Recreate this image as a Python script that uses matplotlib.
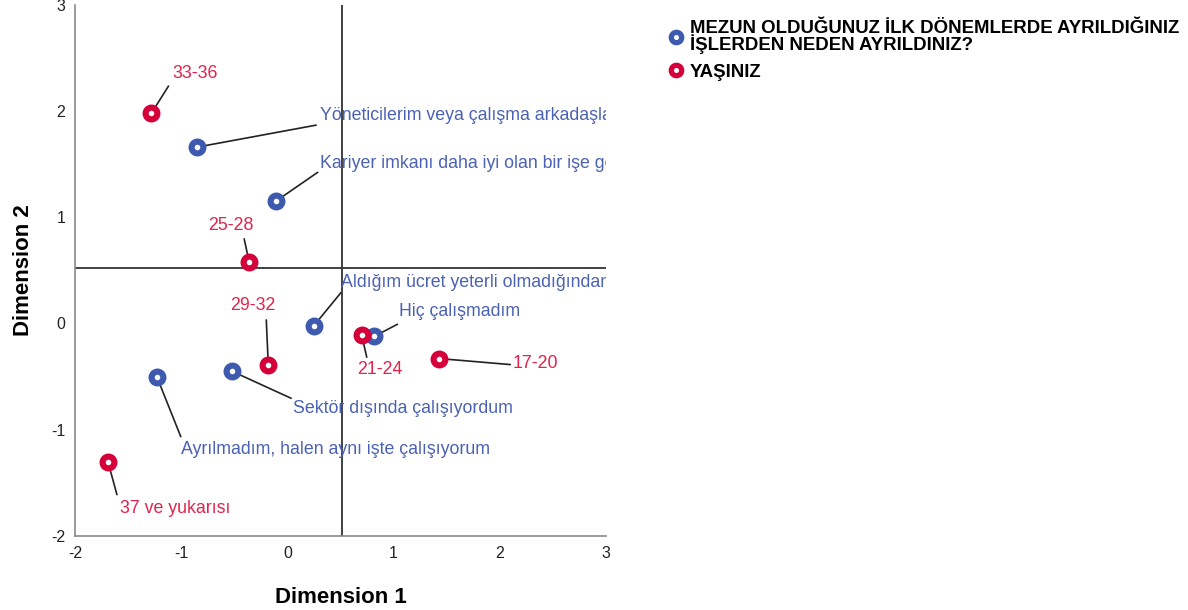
import matplotlib
matplotlib.use("Agg")
import matplotlib.pyplot as plt
from matplotlib.lines import Line2D

plt.rcParams['font.family'] = ['Liberation Sans', 'DejaVu Sans']
plt.rcParams['axes.unicode_minus'] = False

# Category points (Dimension 1, Dimension 2)
reason_labels = [
    "Yöneticilerim veya çalışma arkadaşlarımla sorun yaşadığımdan",
    "Kariyer imkanı daha iyi olan bir işe geçtiğimden",
    "Aldığım ücret yeterli olmadığından",
    "Hiç çalışmadım",
    "Sektör dışında çalışıyordum",
    "Ayrılmadım, halen aynı işte çalışıyorum",
]
reason_dim1 = [-0.85, -0.11, 0.25, 0.82, -0.52, -1.23]
reason_dim2 = [1.66, 1.15, -0.02, -0.12, -0.45, -0.50]

age_labels = ["33-36", "25-28", "29-32", "21-24", "17-20", "37 ve yukarısı"]
age_dim1 = [-1.28, -0.36, -0.18, 0.70, 1.43, -1.69]
age_dim2 = [1.98, 0.58, -0.39, -0.11, -0.33, -1.30]

legend_labels = ["MEZUN OLDUĞUNUZ İLK DÖNEMLERDE AYRILDIĞINIZ\nİŞLERDEN NEDEN AYRILDINIZ?", "YAŞINIZ"]
x_ticks = [-2, -1, 0, 1, 2, 3]
y_ticks = [-2, -1, 0, 1, 2, 3]
ref_x = 0.51
ref_y = 0.52

# label placement in pixels relative to the point: text offset, leader end, alignment (style only)
reason_place = [((123, 32), (119, 22), 'left'), ((44, 38), (42, 29), 'left'),
                ((27, 43), (27, 33), 'left'), ((25, 25), (23, 12), 'left'),
                ((61, -37), (59, -27), 'left'), ((24, -73), (24, -60), 'left')]
age_place = [((44, 40), (17, 27), 'center'), ((-18, 36), (-5, 23), 'center'),
             ((-15, 59), (-2, 45), 'center'), ((18, -34), (5, -22), 'center'),
             ((73, -5), (71, -6), 'left'), ((12, -47), (9, -33), 'left')]

BLUE = '#3D5AAF'
RED = '#D5003A'
BLUE_T = '#4B62B3'
RED_T = '#E2234C'

fig = plt.figure(figsize=(11.88, 6.10), dpi=100)
ax = fig.add_axes([75/1188, (610-536)/610, (606-75)/1188, (536-4.75)/610])

ax.set_xlim(-2, 3)
ax.set_ylim(-2, 3)
ax.set_xticks(x_ticks)
ax.set_yticks(y_ticks)
ax.tick_params(length=0, labelsize=11.5, pad=7, colors='#222222')
for s in ['top', 'right']:
    ax.spines[s].set_visible(False)
for s in ['left', 'bottom']:
    ax.spines[s].set_color('#8a8a8a')
    ax.spines[s].set_linewidth(1.2)

ax.axvline(ref_x, color='#333333', lw=1.3, zorder=1)
ax.axhline(ref_y, color='#333333', lw=1.3, zorder=1)

mk = dict(marker='o', markersize=8.5, markeredgewidth=4.4, markerfacecolor='white', linestyle='none', zorder=4)
ax.plot(reason_dim1, reason_dim2, markeredgecolor=BLUE, **mk)
ax.plot(age_dim1, age_dim2, markeredgecolor=RED, **mk)

def label_points(xs, ys, labels, places, color):
    for x, y, lab, (toff, lend, ha) in zip(xs, ys, labels, places):
        ax.annotate('', xy=(x, y), xytext=lend, textcoords='offset pixels',
                    arrowprops=dict(arrowstyle='-', color='#222222', lw=1.2,
                                    shrinkA=0, shrinkB=0),
                    zorder=2, annotation_clip=False)
        t = ax.annotate(lab, xy=(x, y), xytext=toff, textcoords='offset pixels',
                        ha=ha, va='center', fontsize=12.8, color=color,
                        zorder=3, annotation_clip=False)
        t.set_clip_on(True)
        t.set_clip_path(ax.patch)

label_points(reason_dim1, reason_dim2, reason_labels, reason_place, BLUE_T)
label_points(age_dim1, age_dim2, age_labels, age_place, RED_T)

ax.set_xlabel("Dimension 1", fontsize=16, fontweight='bold', labelpad=19)
ax.set_ylabel("Dimension 2", fontsize=16, fontweight='bold', labelpad=12)

handles = [Line2D([], [], marker='o', markersize=7.5, markeredgewidth=3.8,
                  markerfacecolor='white', markeredgecolor=c, linestyle='none')
           for c in (BLUE, RED)]
leg = fig.legend(handles, legend_labels, loc='upper left',
                 bbox_to_anchor=(670/1188, 1 - 20/610), frameon=False,
                 prop={'size': 13.4, 'weight': 'bold'}, handlelength=0.6,
                 handletextpad=0.45, labelspacing=0.5, borderaxespad=0,
                 borderpad=0)
for t in leg.get_texts():
    t.set_linespacing(0.85)

fig.savefig("out.png", dpi=100)
